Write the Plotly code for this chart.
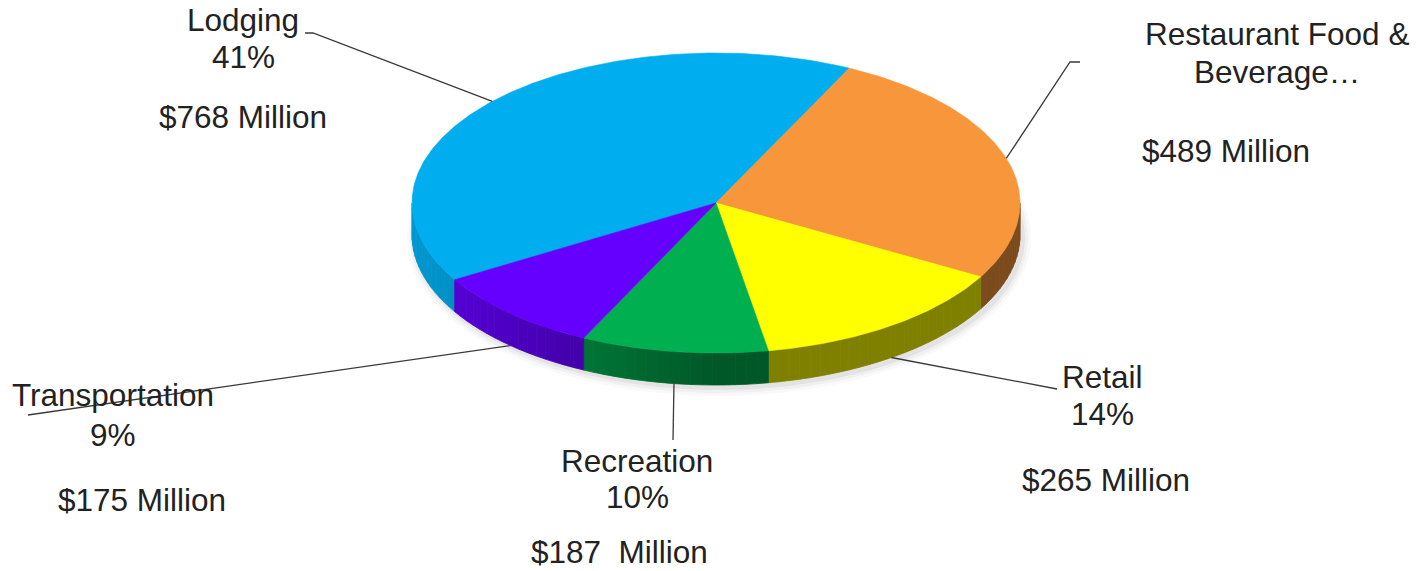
import math
import plotly.graph_objects as go

# ---- data -------------------------------------------------------------
categories = ["Lodging", "Restaurant Food & Beverage", "Retail", "Recreation", "Transportation"]
spend_millions = [768, 489, 265, 187, 175]
label_lines = [["Lodging"], ["Restaurant Food &", "Beverage…"], ["Retail"], ["Recreation"], ["Transportation"]]
show_percent = [True, False, True, True, True]
amount_gap = [" ", " ", " ", "\u00a0 ", " "]

# ---- style ------------------------------------------------------------
top_colors = ["#00ADEE", "#F7963A", "#FFFF00", "#00AF50", "#6500FE"]
TEXT_COLOR = "#222222"
FONT = "Liberation Sans, Arial, sans-serif"
FONT_SIZE = 31.5
W, H = 1416, 571

# pie geometry (page pixels): centre, radii, rim depth, start angle (clockwise from 12 o'clock)
CX, CY, RX, RY, DEPTH = 716, 203, 304, 150, 32
START_DEG = 239.25

# label block placement: centre x, y of the first line, spacing, y of the amount line
label_pos = [
    (243, 20, 37, 117),
    (1277, 34, 38, 151),
    (1102, 377, 37, 480),
    (637, 461, 36, 552),
    (113, 395, 40, 500),
]
amount_x = [243, 1226, 1106, 619, 142]
# leader line outer ends (near the label)
leader_end = [
    [(313, 33), (305, 33)],
    [(1070, 62), (1080, 62)],
    [(1057, 389)],
    [(673, 440)],
    [(28, 415)],
]


def hex_rgb(h):
    h = h.lstrip("#")
    return tuple(int(h[i:i + 2], 16) for i in (0, 2, 4))


def shade(h, f):
    r, g, b = hex_rgb(h)
    return "rgb(%d,%d,%d)" % (round(r * f), round(g * f), round(b * f))


def pt(theta, dy=0.0):
    phi = math.radians(90.0 - theta)
    return CX + RX * math.cos(phi), CY - RY * math.sin(phi) + dy


def arc(t0, t1, dy=0.0, step=1.0):
    n = max(2, int(abs(t1 - t0) / step) + 1)
    pts = [pt(t0 + (t1 - t0) * i / (n - 1), dy) for i in range(n)]
    return [p[0] for p in pts], [p[1] for p in pts]


total = float(sum(spend_millions))
spans = []
a = START_DEG
for v in spend_millions:
    sweep = v / total * 360.0
    spans.append((a, a + sweep))
    a += sweep

fig = go.Figure()

# soft shadow under the disc
for k, alpha in enumerate([0.025, 0.035, 0.05]):
    grow = 8 - 3 * k
    xs, ys = [], []
    for i in range(181):
        t = i * 2.0
        phi = math.radians(90 - t)
        xs.append(CX + 3 + (RX + grow) * math.cos(phi))
        ys.append(CY + DEPTH + 3 - (RY + grow) * math.sin(phi))
    fig.add_trace(go.Scatter(x=xs, y=ys, mode="lines", fill="toself",
                             fillcolor="rgba(0,0,0,%.3f)" % alpha,
                             line=dict(width=0), hoverinfo="skip"))

# rim (side walls) on the visible front half
for (t0, t1), col in zip(spans, top_colors):
    for lo, hi in ((90, 270), (450, 630), (-270, -90)):
        s0, s1 = max(t0, lo), min(t1, hi)
        if s1 <= s0:
            continue
        n = max(1, int((s1 - s0) / 2.0))
        for j in range(n):
            u0 = s0 + (s1 - s0) * j / n
            u1 = s0 + (s1 - s0) * (j + 1) / n
            phi = math.radians(90 - (u0 + u1) / 2)
            f = 0.5 + 0.38 * max(0.0, -math.cos(phi))
            c = shade(col, f)
            xt, yt = arc(u0, u1, 0, 0.5)
            xb, yb = arc(u0, u1, DEPTH, 0.5)
            fig.add_trace(go.Scatter(x=xt + xb[::-1] + [xt[0]], y=yt + yb[::-1] + [yt[0]],
                                     mode="lines", fill="toself", fillcolor=c,
                                     line=dict(color=c, width=0.8), hoverinfo="skip"))

# top faces
for (t0, t1), col in zip(spans, top_colors):
    xa, ya = arc(t0, t1, 0, 0.5)
    fig.add_trace(go.Scatter(x=[CX] + xa + [CX], y=[CY] + ya + [CY], mode="lines",
                             fill="toself", fillcolor=col, line=dict(color=col, width=0.6),
                             hoverinfo="skip"))

# leader lines from each slice's mid-angle on the rim
for (t0, t1), ends in zip(spans, leader_end):
    tm = (t0 + t1) / 2
    front = 90 <= (tm % 360) <= 270
    x0, y0 = pt(tm, DEPTH if front else 0)
    xs = [x0] + [e[0] for e in ends]
    ys = [y0] + [e[1] for e in ends]
    fig.add_trace(go.Scatter(x=xs, y=ys, mode="lines",
                             line=dict(color="#3a3a3a", width=1.3), hoverinfo="skip"))

# labels
annotations = []
for i, v in enumerate(spend_millions):
    cx, y0, dy, ya = label_pos[i]
    lines = list(label_lines[i])
    if show_percent[i]:
        lines.append("%d%%" % round(v / total * 100))
    for k, s in enumerate(lines):
        annotations.append(dict(x=cx, y=y0 + k * dy, text=s, showarrow=False,
                                xanchor="center", yanchor="middle",
                                font=dict(family=FONT, size=FONT_SIZE, color=TEXT_COLOR)))
    annotations.append(dict(x=amount_x[i], y=ya, text="$%d%sMillion" % (v, amount_gap[i]),
                            showarrow=False, xanchor="center", yanchor="middle",
                            font=dict(family=FONT, size=FONT_SIZE, color=TEXT_COLOR)))

fig.update_layout(
    width=W, height=H, margin=dict(l=0, r=0, t=0, b=0),
    paper_bgcolor="white", plot_bgcolor="white", showlegend=False,
    hovermode=False, annotations=annotations,
    xaxis=dict(range=[0, W], visible=False, fixedrange=True),
    yaxis=dict(range=[H, 0], visible=False, fixedrange=True),
)

fig.write_html("out.html")
